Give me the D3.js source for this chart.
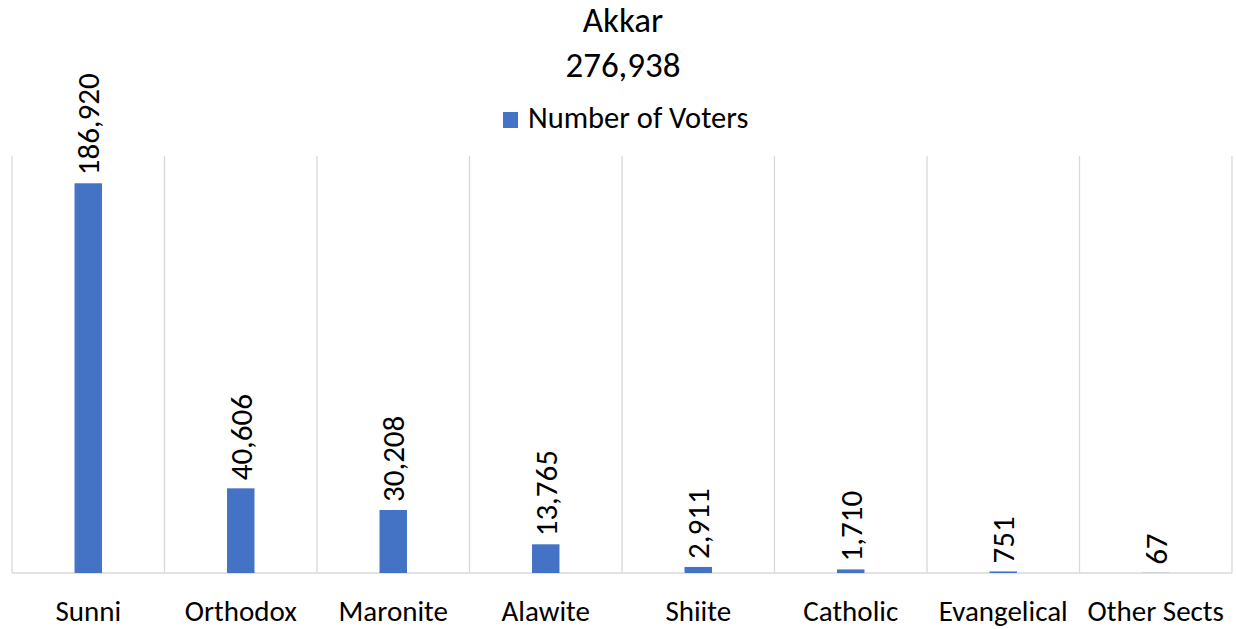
<!DOCTYPE html>
<html><head><meta charset="utf-8">
<script src="https://cdn.jsdelivr.net/npm/d3@7"></script>
<style>
html,body{margin:0;padding:0;background:#fff;}
svg{display:block;font-family:Carlito, Calibri, Lato, sans-serif;}
</style></head>
<body><svg id="c" width="1236" height="629"></svg>
<script>
const categories = ["Sunni","Orthodox","Maronite","Alawite","Shiite","Catholic","Evangelical","Other Sects"];
const voters = [186920, 40606, 30208, 13765, 2911, 1710, 751, 67];
const titleLines = ["Akkar", "276,938"];
const seriesName = "Number of Voters";
const yMax = 200000;

const svg = d3.select("#c");
const m = {left: 12, right: 4, top: 156, bottom: 56};
const W = 1236, H = 629;
const x = d3.scaleBand().domain(categories).range([m.left, W - m.right]).paddingInner(0).paddingOuter(0);
const y = d3.scaleLinear().domain([0, yMax]).range([H - m.bottom, m.top]);
const bw = x.bandwidth() * 0.18;

// vertical gridlines at category boundaries
const bounds = categories.map(c => x(c)).concat([x.range()[1]]);
svg.append("g").selectAll("line").data(bounds).join("line")
  .attr("x1", d => d).attr("x2", d => d)
  .attr("y1", y(yMax)).attr("y2", y(0))
  .attr("stroke", "#d9d9d9").attr("stroke-width", 1.3);

// baseline
svg.append("line").attr("x1", x.range()[0]).attr("x2", x.range()[1])
  .attr("y1", y(0)).attr("y2", y(0)).attr("stroke", "#d9d9d9").attr("stroke-width", 1.3);

// bars
svg.append("g").selectAll("rect").data(voters).join("rect")
  .attr("x", (d, i) => x(categories[i]) + x.bandwidth() / 2 - bw / 2)
  .attr("width", bw)
  .attr("y", d => y(d))
  .attr("height", d => y(0) - y(d))
  .attr("fill", "#4472C4");

// data labels
const fmt = d3.format(",");
svg.append("g").selectAll("text").data(voters).join("text")
  .attr("transform", (d, i) => `translate(${x(categories[i]) + x.bandwidth() / 2 + 11},${y(d) - 8}) rotate(-90)`)
  .attr("text-anchor", "start")
  .attr("font-size", 31)
  .attr("fill", "#000")
  .text(d => fmt(d));

// category axis labels
const xAxis = d3.axisBottom(x).tickSize(0).tickPadding(0);
const gx = svg.append("g").attr("transform", `translate(0,${y(0)})`).call(xAxis);
gx.select(".domain").remove();
gx.selectAll("text").attr("font-size", 29).attr("fill", "#000")
  .attr("font-family", "Carlito, Calibri, Lato, sans-serif")
  .attr("dy", null).attr("y", 48);

// title
svg.append("text").attr("x", 623).attr("y", 32).attr("text-anchor", "middle")
  .attr("font-size", 35).attr("fill", "#000").text(titleLines[0]);
svg.append("text").attr("x", 623).attr("y", 77).attr("text-anchor", "middle")
  .attr("font-size", 35).attr("fill", "#000").text(titleLines[1]);

// legend
const lg = svg.append("g");
lg.append("rect").attr("x", 503).attr("y", 112).attr("width", 15).attr("height", 16).attr("fill", "#4472C4");
lg.append("text").attr("x", 528).attr("y", 128).attr("font-size", 30.5).attr("fill", "#000").text(seriesName);
</script></body></html>
